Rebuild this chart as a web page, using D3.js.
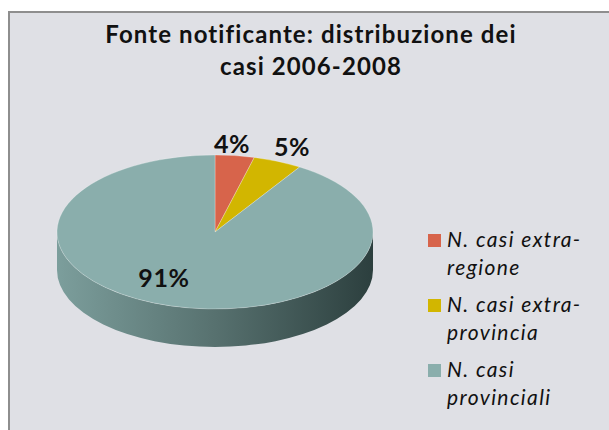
<!DOCTYPE html>
<html>
<head>
<meta charset="utf-8">
<script src="https://cdn.jsdelivr.net/npm/d3@7"></script>
<style>
  body { margin: 0; background: #fff; }
  svg { display: block; }
</style>
</head>
<body>
<svg id="chart" width="609" height="430"></svg>
<script>
// dati
const categories = ["N. casi extra-regione", "N. casi extra-provincia", "N. casi provinciali"]
const legendLines = [["N. casi extra-", "regione"], ["N. casi extra-", "provincia"], ["N. casi", "provinciali"]]
const values = [4, 5, 91]
const labels = ["4%", "5%", "91%"]
const colors = ["#d7644b", "#d2b600", "#8aaeac"]
const titleLines = ["Fonte notificante: distribuzione dei", "casi 2006-2008"]

const svg = d3.select('#chart')
const font = "Lato, 'Open Sans', sans-serif"

svg.append('rect').attr('x', 9).attr('y', 12).attr('width', 610).attr('height', 430)
  .attr('fill', '#dfe0e5').attr('stroke', '#8e8e8e').attr('stroke-width', 2)

svg.append('g').selectAll('text').data(titleLines).enter().append('text')
  .attr('x', 311).attr('y', (d, i) => 43 + i * 32)
  .attr('text-anchor', 'middle').attr('font-family', font).attr('font-weight', 700)
  .attr('font-size', 24).attr('letter-spacing', 1.1).attr('fill', '#111').text(d => d)

// pie 3d
const cx = 215, cy = 232, rx = 158, ry = 77, depth = 38
const pie = d3.pie().sort(null).startAngle(0).endAngle(2 * Math.PI)
const arcs = pie(values)

const defs = svg.append('defs')
const grad = defs.append('linearGradient').attr('id', 'side').attr('x1', 0).attr('x2', 1).attr('y1', 0).attr('y2', 0)
grad.append('stop').attr('offset', 0).attr('stop-color', '#7c9e9c')
grad.append('stop').attr('offset', 0.5).attr('stop-color', '#57716f')
grad.append('stop').attr('offset', 1).attr('stop-color', '#2c3f3e')

const px = a => cx + rx * Math.sin(a)
const py = a => cy - ry * Math.cos(a)

function sidePath(a0, a1) {
  const s = Math.max(a0, Math.PI / 2), e = Math.min(a1, 3 * Math.PI / 2)
  if (e <= s) return null
  const large = (e - s) > Math.PI ? 1 : 0
  return `M${px(s)},${py(s)} A${rx},${ry} 0 ${large} 1 ${px(e)},${py(e)}` +
    ` L${px(e)},${py(e) + depth} A${rx},${ry} 0 ${large} 0 ${px(s)},${py(s) + depth} Z`
}

svg.append('g').selectAll('path').data(arcs.filter(d => sidePath(d.startAngle, d.endAngle))).enter()
  .append('path').attr('d', d => sidePath(d.startAngle, d.endAngle))
  .attr('fill', d => d.index === 2 ? 'url(#side)' : d3.color(colors[d.index]).darker(1))

const arc = d3.arc().innerRadius(0).outerRadius(rx)
svg.append('g').attr('transform', `translate(${cx},${cy}) scale(1,${ry / rx})`)
  .selectAll('path').data(arcs).enter().append('path')
  .attr('d', arc).attr('fill', (d, i) => colors[i])
  .attr('stroke', 'rgba(255,255,255,0.35)').attr('stroke-width', 1)

const labelPos = [[232, 153], [292, 156], [164, 287]]
svg.append('g').selectAll('text').data(labels).enter().append('text')
  .attr('x', (d, i) => labelPos[i][0]).attr('y', (d, i) => labelPos[i][1])
  .attr('text-anchor', 'middle').attr('font-family', font).attr('font-weight', 700)
  .attr('font-size', 25).attr('letter-spacing', 0.6).attr('fill', '#111').text(d => d)

// legenda
const leg = svg.append('g').selectAll('g').data(categories).enter().append('g')
  .attr('transform', (d, i) => `translate(428,${234 + i * 65})`)
leg.append('rect').attr('width', 13).attr('height', 13).attr('fill', (d, i) => colors[i])
leg.append('text').attr('font-family', font).attr('font-style', 'italic')
  .attr('font-size', 21).attr('letter-spacing', 1.4).attr('fill', '#111')
  .selectAll('tspan').data((d, i) => legendLines[i]).enter().append('tspan')
  .attr('x', 19).attr('y', (d, j) => 13 + j * 28).text(d => d)
</script>
</body>
</html>
